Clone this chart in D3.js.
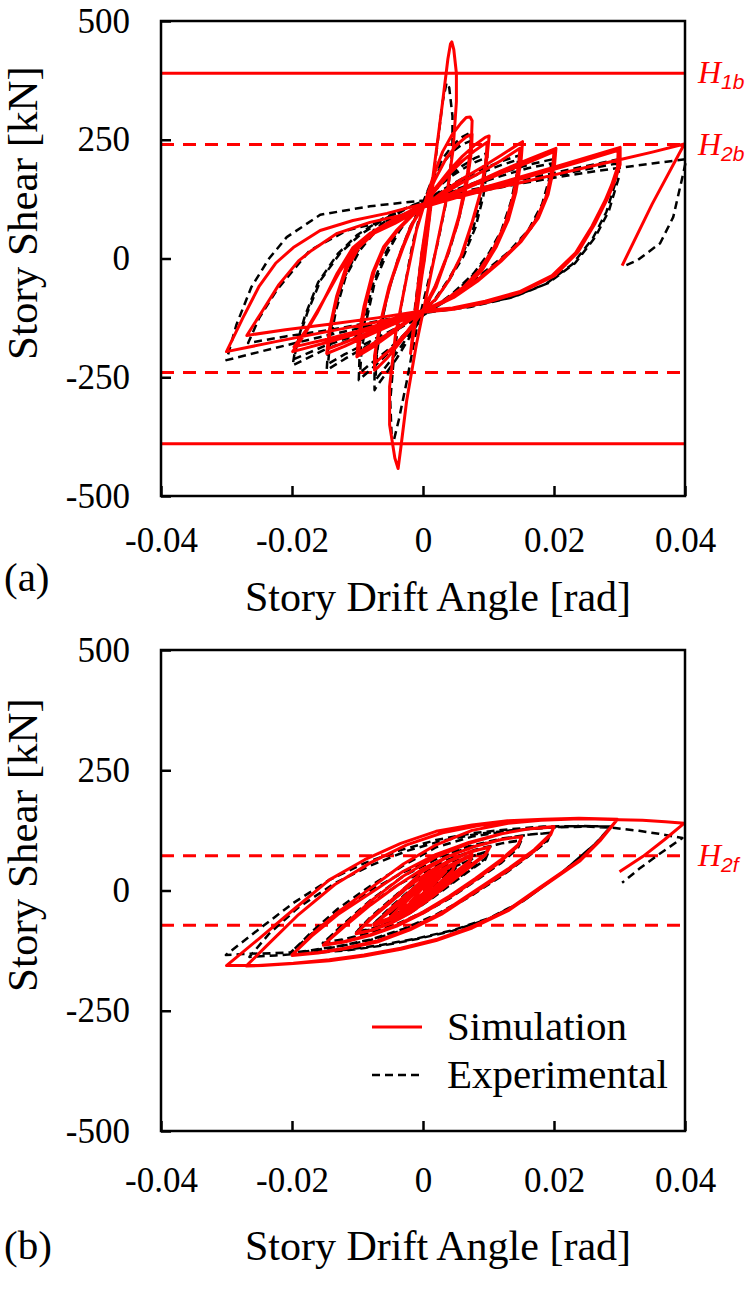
<!DOCTYPE html>
<html>
<head>
<meta charset="utf-8">
<script src="https://cdn.jsdelivr.net/npm/d3@7"></script>
<style>
  body { margin: 0; background: #fff; }
  svg text { font-family: "Liberation Serif", "Times New Roman", serif; }
</style>
</head>
<body>
<div id="chart"></div>
<script>
//== DATA ================================================//
var xTicks = [-0.04, -0.02, 0, 0.02, 0.04];
var xTickLabels = ["-0.04", "-0.02", "0", "0.02", "0.04"];
var yTicks = [-500, -250, 0, 250, 500];
var yTickLabels = ["-500", "-250", "0", "250", "500"];

// reference strengths [kN], drawn at +/- value
var refA = [390, 240];
var refAName = ["1b", "2b"];
var refB = [72];
var refBName = ["2f"];

var seriesNames = ["Simulation", "Experimental"];

// panel (a): [drift angle, shear]
var simA = [
    [0, 0], [0.0008, 85], [0.0015, 160], [0.0012, 110], [0.0002, -5], [-0.0008, -90], [-0.0015, -160], [-0.0012, -110], [-0.0002, 10], [0.001, 120], [0.0018, 190], [0.0014, 140], [0.0003, 10], [-0.001, -120], [-0.0019, -200], [-0.0015, -150], [-0.0004, -20], [0.001, 120],
    [0.0015, 170], [0.003, 330], [0.0038, 420], [0.0042, 452], [0.0044, 456], [0.0047, 440], [0.0051, 390], [0.0051, 330], [0.0046, 230], [0.0035, 120], [0.002, 20], [0.0005, -80], [-0.001, -180], [-0.0025, -300], [-0.0034, -400], [-0.0038, -442], [-0.0043, -420], [-0.0051, -350], [-0.0051, -270], [-0.0042, -160], [-0.0025, -40], [-0.001, 60], [0, 105],
    [0.0015, 170], [0.003, 225], [0.0045, 262], [0.0058, 285], [0.0066, 297], [0.0072, 298], [0.0075, 290], [0.0074, 250], [0.0068, 180], [0.0055, 90], [0.0038, 10], [0.002, -60], [0, -110], [-0.002, -150], [-0.004, -185], [-0.0055, -210], [-0.0068, -228], [-0.0074, -235], [-0.0074, -205], [-0.0066, -140], [-0.0052, -60], [-0.0035, 10], [-0.0018, 70], [0, 110],
    [0.0018, 165], [0.0035, 210], [0.0052, 240], [0.0066, 256], [0.0075, 262], [0.0074, 225], [0.0066, 150], [0.0052, 70], [0.0035, 0], [0.0018, -60], [0, -108], [-0.0025, -155], [-0.0048, -190], [-0.0065, -210], [-0.0073, -220], [-0.0072, -190], [-0.0062, -120], [-0.0048, -45], [-0.003, 25], [-0.0015, 75], [0, 110],
    [0.002, 150], [0.004, 185], [0.006, 215], [0.008, 240], [0.0095, 255], [0.0101, 258], [0.0098, 215], [0.009, 150], [0.0076, 80], [0.006, 10], [0.004, -45], [0.002, -85], [0, -110], [-0.0025, -135], [-0.005, -160], [-0.0075, -185], [-0.0101, -207], [-0.0098, -160], [-0.009, -100], [-0.0077, -30], [-0.006, 25], [-0.004, 60], [-0.002, 88], [0, 110],
    [0.002, 145], [0.004, 178], [0.006, 205], [0.008, 228], [0.0098, 245], [0.0096, 205], [0.0088, 140], [0.0074, 72], [0.0058, 5], [0.004, -45], [0.002, -85], [0, -108], [-0.0025, -132], [-0.005, -155], [-0.0075, -178], [-0.0098, -198], [-0.0095, -150], [-0.0087, -92], [-0.0074, -25], [-0.0058, 25], [-0.0038, 60], [-0.0018, 88], [0, 108],
    [0.003, 140], [0.006, 168], [0.009, 192], [0.012, 218], [0.0145, 240], [0.0152, 246], [0.015, 210], [0.0142, 140], [0.013, 80], [0.0112, 25], [0.009, -25], [0.0065, -60], [0.0035, -88], [0, -112], [-0.004, -135], [-0.008, -160], [-0.012, -185], [-0.0147, -200], [-0.0143, -150], [-0.0132, -80], [-0.0118, -20], [-0.01, 25], [-0.0075, 58], [-0.0045, 82], [-0.002, 100], [0, 112],
    [0.003, 135], [0.006, 160], [0.009, 183], [0.012, 207], [0.0148, 232], [0.0146, 198], [0.0138, 132], [0.0126, 75], [0.0108, 22], [0.0086, -25], [0.0062, -60], [0.0033, -88], [0, -110], [-0.004, -132], [-0.008, -155], [-0.012, -177], [-0.0145, -190], [-0.0141, -142], [-0.013, -75], [-0.0115, -18], [-0.0097, 25], [-0.0072, 56], [-0.0042, 80], [-0.0018, 98], [0, 110],
    [0.004, 135], [0.008, 160], [0.012, 185], [0.016, 208], [0.0203, 232], [0.0201, 199], [0.0191, 135], [0.0176, 85], [0.015, 36], [0.0119, -6], [0.0083, -48], [0.0047, -82], [0.002, -100], [0, -112], [-0.005, -135], [-0.01, -158], [-0.015, -178], [-0.0199, -196], [-0.018, -158], [-0.0162, -116], [-0.0145, -70], [-0.0131, -31], [-0.0107, 23], [-0.0081, 53], [-0.0046, 76], [-0.002, 95], [0, 110],
    [0.004, 132], [0.008, 156], [0.012, 180], [0.016, 202], [0.02, 225], [0.0198, 192], [0.0188, 130], [0.0172, 80], [0.0146, 32], [0.0115, -8], [0.008, -48], [0.0045, -80], [0.002, -98], [0, -110], [-0.005, -132], [-0.01, -153], [-0.015, -171], [-0.0197, -186], [-0.0178, -150], [-0.016, -108], [-0.0142, -64], [-0.0127, -27], [-0.0103, 22], [-0.0077, 52], [-0.0043, 74], [-0.0018, 93], [0, 108],
    [0.005, 132], [0.01, 152], [0.015, 172], [0.02, 192], [0.025, 213], [0.0301, 234], [0.0301, 198], [0.0292, 160], [0.0282, 127], [0.0262, 72], [0.0237, 14], [0.0201, -36], [0.015, -71], [0.0098, -92], [0.0047, -107], [0, -113], [-0.0075, -135], [-0.015, -155], [-0.0225, -175], [-0.03, -196], [-0.0275, -125], [-0.025, -58], [-0.0225, -10], [-0.0198, 23], [-0.0157, 59], [-0.0107, 80], [-0.0055, 95], [0, 115],
    [0.005, 128], [0.01, 148], [0.015, 168], [0.02, 188], [0.025, 208], [0.0298, 228], [0.0297, 192], [0.0288, 155], [0.0278, 122], [0.0258, 68], [0.0233, 12], [0.0197, -36], [0.0147, -70], [0.0095, -90], [0.0045, -104], [0, -110], [-0.007, -125], [-0.014, -138], [-0.021, -150], [-0.0269, -162], [-0.0245, -110], [-0.022, -55], [-0.019, -5], [-0.017, 17], [-0.0131, 53], [-0.0081, 76], [-0.0024, 94], [0, 108],
    [0.005, 128], [0.01, 145], [0.015, 160], [0.02, 176], [0.025, 192], [0.03, 208], [0.035, 224], [0.0399, 241], [0.035, 115], [0.0304, -15]
];

var expA = [
    [0, 0], [0.0008, 80], [0.0014, 140], [0.0011, 100], [0.0001, -10], [-0.0009, -90], [-0.0015, -145], [-0.0012, -100], [-0.0002, 10], [0.001, 110],
    [0.0022, 240], [0.003, 330], [0.0036, 370], [0.004, 360], [0.0045, 300], [0.0045, 230], [0.0037, 130], [0.0022, 30], [0.0006, -60], [-0.001, -150], [-0.0025, -260], [-0.0037, -340], [-0.0044, -380], [-0.0048, -370], [-0.005, -300], [-0.0044, -200], [-0.0032, -90], [-0.0016, 30], [0, 118],
    [0.0015, 170], [0.003, 210], [0.0045, 238], [0.006, 256], [0.0072, 265], [0.0074, 240], [0.0068, 170], [0.0056, 90], [0.004, 15], [0.002, -55], [0, -118], [-0.002, -165], [-0.004, -210], [-0.0058, -245], [-0.007, -268], [-0.0074, -277], [-0.0074, -240], [-0.0068, -170], [-0.0055, -80], [-0.0038, 0], [-0.002, 65], [0, 118],
    [0.0015, 165], [0.003, 200], [0.0045, 225], [0.006, 240], [0.0074, 248], [0.0073, 222], [0.0066, 155], [0.0054, 80], [0.0038, 10], [0.002, -55], [0, -115], [-0.002, -158], [-0.004, -198], [-0.0058, -230], [-0.0072, -255], [-0.0072, -220], [-0.0066, -155], [-0.0053, -70], [-0.0036, 5], [-0.0018, 68], [0, 118],
    [0.002, 150], [0.004, 175], [0.006, 195], [0.008, 212], [0.0098, 222], [0.0098, 190], [0.0092, 130], [0.008, 65], [0.0062, 5], [0.004, -45], [0.002, -85], [0, -120], [-0.0025, -160], [-0.005, -195], [-0.0075, -228], [-0.0098, -256], [-0.0097, -210], [-0.009, -140], [-0.0078, -60], [-0.006, 5], [-0.004, 55], [-0.002, 92], [0, 120],
    [0.002, 146], [0.004, 170], [0.006, 188], [0.008, 203], [0.0096, 212], [0.0095, 182], [0.0088, 122], [0.0076, 60], [0.0058, 2], [0.0038, -46], [0.0018, -86], [0, -118], [-0.0025, -155], [-0.005, -188], [-0.0075, -216], [-0.0096, -240], [-0.0094, -196], [-0.0086, -128], [-0.0074, -52], [-0.0056, 8], [-0.0036, 58], [-0.0018, 92], [0, 118],
    [0.003, 145], [0.006, 168], [0.009, 188], [0.012, 205], [0.0147, 217], [0.0146, 185], [0.0138, 125], [0.0124, 65], [0.0105, 15], [0.008, -30], [0.005, -70], [0.0025, -98], [0, -120], [-0.004, -150], [-0.008, -180], [-0.012, -212], [-0.0147, -235], [-0.0145, -190], [-0.0137, -120], [-0.0122, -45], [-0.01, 15], [-0.0075, 60], [-0.0045, 92], [-0.002, 110], [0, 120],
    [0.003, 142], [0.006, 163], [0.009, 181], [0.012, 197], [0.0145, 208], [0.0143, 176], [0.0134, 118], [0.012, 60], [0.0101, 12], [0.0077, -32], [0.0048, -70], [0.0023, -97], [0, -118], [-0.004, -146], [-0.008, -174], [-0.012, -202], [-0.0145, -222], [-0.0142, -178], [-0.0133, -110], [-0.0118, -38], [-0.0096, 18], [-0.0071, 60], [-0.0042, 92], [-0.0018, 110], [0, 120],
    [0.004, 140], [0.008, 160], [0.012, 180], [0.016, 197], [0.0198, 209], [0.0195, 171], [0.0186, 121], [0.0165, 64], [0.0134, 16], [0.0098, -26], [0.0056, -71], [0.0025, -98], [0, -115], [-0.005, -140], [-0.01, -165], [-0.015, -192], [-0.0199, -225], [-0.0195, -190], [-0.018, -120], [-0.016, -50], [-0.013, 10], [-0.01, 50], [-0.006, 85], [-0.002, 110], [0, 120],
    [0.004, 138], [0.008, 156], [0.012, 174], [0.016, 190], [0.0196, 200], [0.0192, 164], [0.0182, 115], [0.0161, 60], [0.013, 13], [0.0094, -28], [0.0053, -71], [0.0023, -97], [0, -114], [-0.005, -138], [-0.01, -160], [-0.015, -184], [-0.0197, -212], [-0.0192, -178], [-0.0176, -112], [-0.0156, -45], [-0.0126, 12], [-0.0096, 50], [-0.0058, 84], [-0.002, 108], [0, 118],
    [0.005, 138], [0.01, 152], [0.015, 166], [0.02, 180], [0.025, 195], [0.0299, 209], [0.0299, 171], [0.0284, 101], [0.0263, 45], [0.0232, -10], [0.0191, -52], [0.0139, -81], [0.0072, -102], [0.0015, -112], [0, -115], [-0.0075, -140], [-0.015, -163], [-0.0225, -188], [-0.03, -214], [-0.0285, -140], [-0.0262, -60], [-0.0235, 0], [-0.0208, 45], [-0.0157, 92], [-0.0081, 110], [0, 122],
    [0.005, 134], [0.01, 147], [0.015, 160], [0.02, 174], [0.025, 188], [0.0296, 200], [0.0295, 165], [0.028, 98], [0.0259, 42], [0.0228, -12], [0.0187, -54], [0.0135, -82], [0.007, -101], [0.0015, -110], [0, -113], [-0.007, -132], [-0.014, -150], [-0.021, -164], [-0.0267, -178], [-0.025, -125], [-0.0223, -66], [-0.0173, 17], [-0.0116, 59], [-0.0055, 80], [0, 108],
    [0.005, 130], [0.01, 145], [0.015, 158], [0.02, 170], [0.025, 181], [0.03, 191], [0.035, 200], [0.0402, 209], [0.0396, 171], [0.0382, 87], [0.0362, 32], [0.0327, -4], [0.0304, -18]
];

// panel (b): [drift angle, shear]
var simB = [
    [0, 0], [0.001, 12], [0.002, 24], [0.001, 8], [0, -6], [-0.001, -16], [-0.002, -25], [-0.001, -10], [0, 6], [0.001, 16], [0.002, 25], [0.0035, 40],
    [0.002, 18], [0, -10], [-0.002, -28], [-0.0035, -38], [-0.002, -15], [0, 12], [0.002, 30], [0.0035, 40],
    [0.0018, 16], [0, -12], [-0.002, -29], [-0.0035, -39], [-0.002, -14], [0, 14], [0.0025, 36], [0.005, 56],
    [0.0045, 42], [0.003, 22], [0.001, -5], [-0.001, -30], [-0.003, -45], [-0.005, -55], [-0.003, -28], [-0.001, 0], [0.001, 25], [0.003, 44], [0.005, 58],
    [0.0045, 40], [0.003, 20], [0.001, -7], [-0.001, -31], [-0.003, -46], [-0.005, -56], [-0.003, -27], [-0.001, 2], [0.001, 28], [0.004, 52], [0.0075, 75],
    [0.007, 58], [0.004, 25], [0.001, -8], [-0.002, -38], [-0.005, -60], [-0.0075, -72], [-0.005, -40], [-0.002, -5], [0.001, 28], [0.004, 52], [0.0075, 74],
    [0.007, 60], [0.004, 28], [0.001, -4], [-0.002, -34], [-0.005, -57], [-0.0075, -70], [-0.005, -44], [-0.002, -9], [0.001, 24], [0.004, 49], [0.0075, 73],
    [0.007, 56], [0.004, 22], [0.001, -10], [-0.002, -40], [-0.005, -61], [-0.0075, -73], [-0.005, -38], [-0.002, -2], [0.001, 35], [0.004, 60], [0.007, 79], [0.0102, 91],
    [0.0095, 75], [0.007, 50], [0.004, 18], [0.001, -15], [-0.002, -45], [-0.005, -68], [-0.008, -83], [-0.0102, -89], [-0.008, -60], [-0.005, -25], [-0.002, 10], [0.001, 40], [0.004, 62], [0.007, 80], [0.0102, 90],
    [0.0095, 73], [0.007, 47], [0.004, 15], [0.001, -18], [-0.002, -47], [-0.005, -69], [-0.008, -84], [-0.0102, -90], [-0.008, -58], [-0.004, -10], [0, 40], [0.004, 72], [0.008, 92], [0.012, 106], [0.0151, 112],
    [0.0145, 95], [0.012, 65], [0.008, 25], [0.004, -12], [0, -45], [-0.004, -72], [-0.008, -92], [-0.012, -106], [-0.0152, -113], [-0.012, -75], [-0.008, -30], [-0.004, 10], [0, 45], [0.004, 72], [0.008, 92], [0.012, 106], [0.0151, 112],
    [0.0145, 93], [0.012, 62], [0.008, 22], [0.004, -15], [0, -47], [-0.004, -74], [-0.008, -93], [-0.012, -107], [-0.0152, -114], [-0.012, -72], [-0.008, -22], [-0.003, 30], [0.002, 70], [0.007, 98], [0.012, 118], [0.016, 128], [0.02, 132],
    [0.0195, 118], [0.017, 85], [0.013, 45], [0.008, 0], [0.003, -45], [-0.002, -80], [-0.007, -105], [-0.012, -120], [-0.016, -129], [-0.02, -134], [-0.017, -95], [-0.013, -50], [-0.008, -5], [-0.003, 40], [0.002, 75], [0.007, 100], [0.012, 118], [0.016, 128], [0.02, 133],
    [0.0195, 116], [0.017, 82], [0.013, 42], [0.008, -3], [0.003, -48], [-0.002, -82], [-0.007, -107], [-0.012, -121], [-0.016, -130], [-0.02, -135], [-0.017, -92], [-0.013, -45], [-0.008, 5], [-0.003, 55], [0.002, 95], [0.0075, 125], [0.013, 140], [0.018, 146], [0.024, 149], [0.0297, 148],
    [0.027, 105], [0.024, 64], [0.018, 8], [0.013, -40], [0.0075, -75], [0.002, -102], [-0.0034, -120], [-0.009, -134], [-0.0143, -144], [-0.0198, -151], [-0.0252, -156], [-0.03, -156], [-0.0252, -102], [-0.0198, -40], [-0.0143, 22], [-0.0089, 64], [-0.0034, 98], [0.002, 123], [0.0075, 136], [0.0129, 145], [0.0184, 148], [0.0238, 150], [0.0297, 148],
    [0.027, 103], [0.024, 62], [0.018, 5], [0.013, -42], [0.0075, -78], [0.002, -104], [-0.0034, -122], [-0.009, -136], [-0.0143, -146], [-0.0198, -152], [-0.0245, -156], [-0.027, -157], [-0.0235, -110], [-0.019, -50], [-0.0135, 12], [-0.008, 58], [-0.0025, 95], [0.003, 120], [0.0085, 135], [0.014, 144], [0.02, 148], [0.025, 149], [0.03, 147],
    [0.0335, 146], [0.037, 143], [0.0399, 140], [0.0368, 105], [0.0336, 71], [0.03, 39]
];

var expB = [
    [0, 0], [0.002, 20], [0.0035, 34],
    [0.002, 14], [0, -12], [-0.002, -28], [-0.0035, -36], [-0.002, -14], [0, 10], [0.002, 25], [0.005, 48],
    [0.0045, 36], [0.003, 16], [0.001, -8], [-0.001, -28], [-0.003, -42], [-0.005, -50], [-0.003, -26], [-0.001, -2], [0.001, 20], [0.003, 36], [0.005, 47],
    [0.0045, 34], [0.003, 14], [0.001, -10], [-0.001, -30], [-0.003, -43], [-0.005, -51], [-0.003, -22], [0, 12], [0.004, 45], [0.0075, 65],
    [0.007, 50], [0.004, 20], [0.001, -10], [-0.002, -38], [-0.005, -57], [-0.0075, -68], [-0.005, -38], [-0.002, -5], [0.001, 24], [0.004, 47], [0.0075, 64],
    [0.007, 48], [0.004, 18], [0.001, -12], [-0.002, -40], [-0.005, -58], [-0.0075, -69], [-0.005, -35], [-0.002, 0], [0.002, 38], [0.006, 65], [0.01, 82],
    [0.0095, 66], [0.007, 42], [0.004, 12], [0.001, -18], [-0.002, -45], [-0.005, -66], [-0.008, -80], [-0.0102, -86], [-0.008, -58], [-0.005, -24], [-0.002, 8], [0.001, 35], [0.004, 56], [0.007, 72], [0.01, 80],
    [0.0095, 64], [0.007, 40], [0.004, 10], [0.001, -20], [-0.002, -47], [-0.005, -67], [-0.008, -81], [-0.0102, -87], [-0.008, -55], [-0.004, -8], [0, 35], [0.004, 62], [0.008, 84], [0.012, 98], [0.015, 105],
    [0.0145, 90], [0.012, 60], [0.008, 22], [0.004, -15], [0, -45], [-0.004, -70], [-0.008, -88], [-0.012, -101], [-0.0153, -109], [-0.012, -70], [-0.008, -28], [-0.004, 10], [0, 40], [0.004, 65], [0.008, 85], [0.012, 98], [0.015, 104],
    [0.0145, 88], [0.012, 58], [0.008, 20], [0.004, -17], [0, -47], [-0.004, -71], [-0.008, -89], [-0.012, -102], [-0.0153, -110], [-0.012, -68], [-0.008, -20], [-0.003, 30], [0.002, 65], [0.007, 90], [0.012, 107], [0.016, 116], [0.0195, 120],
    [0.019, 105], [0.016, 72], [0.012, 32], [0.007, -12], [0.002, -50], [-0.003, -80], [-0.008, -102], [-0.013, -116], [-0.017, -124], [-0.0203, -130], [-0.017, -90], [-0.013, -45], [-0.008, 0], [-0.003, 38], [0.002, 68], [0.007, 92], [0.012, 108], [0.016, 116], [0.0195, 120],
    [0.019, 103], [0.016, 70], [0.012, 30], [0.007, -14], [0.002, -52], [-0.003, -82], [-0.008, -103], [-0.013, -117], [-0.017, -125], [-0.0203, -131], [-0.017, -86], [-0.013, -38], [-0.008, 10], [-0.003, 52], [0.002, 90], [0.0075, 112], [0.0129, 124], [0.0184, 131], [0.0238, 134], [0.0287, 133],
    [0.0264, 98], [0.0211, 36], [0.0156, -19], [0.0102, -57], [0.0047, -82], [-0.0007, -99], [-0.0062, -113], [-0.0116, -123], [-0.0171, -127], [-0.0225, -130], [-0.0274, -132], [-0.0301, -134], [-0.0252, -82], [-0.0198, -26], [-0.0143, 22], [-0.0089, 57], [-0.0034, 84], [0.002, 105], [0.0075, 119], [0.0129, 127], [0.0184, 133], [0.0238, 134], [0.0287, 133],
    [0.0262, 96], [0.0209, 34], [0.0154, -21], [0.01, -59], [0.0045, -84], [-0.0009, -101], [-0.0064, -115], [-0.0118, -125], [-0.0173, -130], [-0.0225, -135], [-0.0265, -138], [-0.0235, -90], [-0.019, -35], [-0.0135, 15], [-0.008, 52], [-0.0025, 82], [0.003, 104], [0.0085, 118], [0.014, 126], [0.02, 131], [0.025, 133], [0.0293, 130],
    [0.033, 124], [0.036, 118], [0.0396, 109], [0.036, 75], [0.033, 45], [0.0304, 16]
];

//== LAYOUT ==============================================//
var W = 750, H = 1292;
var plotLeft = 161, plotRight = 685;
var red = "#ff0000";

var svg = d3.select("#chart")
    .append("svg")
    .attr("width", W)
    .attr("height", H);

var x = d3.scaleLinear()
    .domain([-0.04, 0.04])
    .range([plotLeft, plotRight]);

var drawPanel = function (cfg) {
    var y = d3.scaleLinear()
        .domain([-500, 500])
        .range([cfg.bottom, cfg.top]);
    var g = svg.append("g");

    // X axis (ticks pointing inward)
    var xAxis = g.append("g")
        .attr("transform", "translate(0," + cfg.bottom + ")")
        .call(d3.axisBottom(x)
            .tickValues(xTicks)
            .tickFormat(function (d, i) { return xTickLabels[i]; })
            .tickSizeInner(-10)
            .tickSizeOuter(0)
            .tickPadding(cfg.xPad));
    // Y axis
    var yAxis = g.append("g")
        .attr("transform", "translate(" + plotLeft + ",0)")
        .call(d3.axisLeft(y)
            .tickValues(yTicks)
            .tickFormat(function (d, i) { return yTickLabels[i]; })
            .tickSizeInner(-10)
            .tickSizeOuter(0)
            .tickPadding(31));
    [xAxis, yAxis].forEach(function (a) {
        a.select(".domain").remove();
        a.selectAll("line").attr("stroke", "#000").attr("stroke-width", 2.5);
        a.selectAll("text")
            .attr("fill", "#000")
            .attr("font-size", 35)
            .attr("font-family", "Liberation Serif, Times New Roman, serif");
    });

    // reference lines
    cfg.refs.forEach(function (v, i) {
        [v, -v].forEach(function (s) {
            g.append("line")
                .attr("x1", plotLeft)
                .attr("x2", plotRight)
                .attr("y1", y(s))
                .attr("y2", y(s))
                .attr("stroke", red)
                .attr("stroke-width", 3)
                .attr("stroke-dasharray", cfg.refDash[i]);
        });
        var lab = g.append("text")
            .attr("x", plotRight + 13)
            .attr("y", y(v) + 10)
            .attr("fill", red);
        lab.append("tspan")
            .attr("font-style", "italic")
            .attr("font-size", 32)
            .text("H");
        lab.append("tspan")
            .attr("font-style", "italic")
            .attr("font-size", 21)
            .attr("font-family", "Liberation Sans, Arial, sans-serif")
            .attr("dy", 6)
            .text(cfg.refNames[i]);
    });

    var line = d3.line()
        .x(function (d) { return x(d[0]); })
        .y(function (d) { return y(d[1]); });

    // experimental (black dashed) under simulation (red)
    g.append("path")
        .datum(cfg.exp)
        .attr("d", line)
        .attr("fill", "none")
        .attr("stroke", "#000")
        .attr("stroke-width", 2.5)
        .attr("stroke-dasharray", "8,5")
        .attr("stroke-linejoin", "round");
    g.append("path")
        .datum(cfg.sim)
        .attr("d", line)
        .attr("fill", "none")
        .attr("stroke", red)
        .attr("stroke-width", 3)
        .attr("stroke-linejoin", "round");

    // plot frame
    g.append("rect")
        .attr("x", plotLeft)
        .attr("y", cfg.top)
        .attr("width", plotRight - plotLeft)
        .attr("height", cfg.bottom - cfg.top)
        .attr("fill", "none")
        .attr("stroke", "#000")
        .attr("stroke-width", 2.5);

    // axis titles
    g.append("text")
        .attr("text-anchor", "middle")
        .attr("transform", "translate(37," + cfg.yTitleY + ")rotate(-90)")
        .attr("font-size", 43)
        .text("Story Shear [kN]");
    g.append("text")
        .attr("text-anchor", "middle")
        .attr("x", 438)
        .attr("y", cfg.xTitleY)
        .attr("font-size", 42)
        .text("Story Drift Angle [rad]");
    g.append("text")
        .attr("x", 4)
        .attr("y", cfg.tagY)
        .attr("font-size", 41)
        .text(cfg.tag);
    return y;
}

drawPanel({
    top: 21, bottom: 496, xPad: 31,
    refs: refA, refNames: refAName, refDash: [null, "13,9"],
    sim: simA, exp: expA,
    yTitleY: 213, xTitleY: 611, tagY: 591, tag: "(a)"
});

drawPanel({
    top: 650, bottom: 1131, xPad: 36,
    refs: refB, refNames: refBName, refDash: ["13,9"],
    sim: simB, exp: expB,
    yTitleY: 845, xTitleY: 1260, tagY: 1259, tag: "(b)"
});

//-- Legend --//
var legend = svg.append("g");
seriesNames.forEach(function (name, i) {
    var ly = 1027 + i * 48;
    legend.append("line")
        .attr("x1", 372)
        .attr("x2", 422)
        .attr("y1", ly)
        .attr("y2", ly)
        .attr("stroke", i === 0 ? red : "#000")
        .attr("stroke-width", i === 0 ? 3 : 2.5)
        .attr("stroke-dasharray", i === 0 ? null : "8,5");
    legend.append("text")
        .attr("x", 447)
        .attr("y", ly + 13)
        .attr("font-size", 41)
        .text(name);
});
</script>
</body>
</html>
